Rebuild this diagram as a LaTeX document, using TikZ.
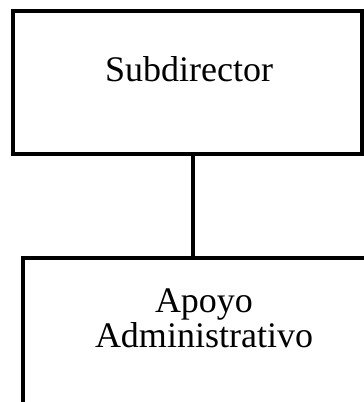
\documentclass[tikz,border=0pt]{standalone}
\usepackage{fontspec}
\setmainfont{Liberation Serif}
\tikzset{
  box/.style={draw=black, line width=3.4pt, fill=white},
  lbl/.style={font=\fontsize{36}{36}\selectfont, inner sep=0pt, anchor=base},
  conn/.style={draw=black, line width=3.4pt}
}
\begin{document}
\begin{tikzpicture}[x=1pt,y=-1pt]
\useasboundingbox (0,0) rectangle (364,402);
\clip (0,0) rectangle (364,402);
\coordinate (topc) at (193,154);
\coordinate (botc) at (193,258);
\draw[conn] (topc) -- (botc);
\draw[box] (13,11) rectangle (362,154);
\draw[box] (23,258) rectangle (390,420);
\node[lbl] (sub) at (189,81) {Subdirector};
\node[lbl] (apoyo) at (204,312) {Apoyo};
\node[lbl] (admin) at (204,347) {Administrativo};
\end{tikzpicture}
\end{document}
